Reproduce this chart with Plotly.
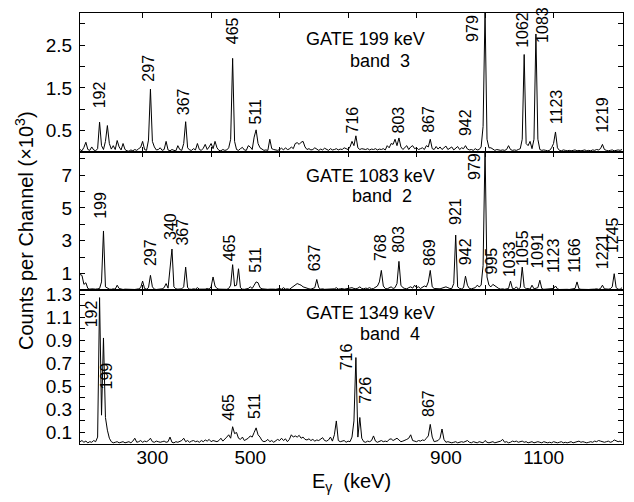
import numpy as np
import plotly.graph_objects as go

# Gamma-ray coincidence spectra, 4 keV per channel starting at 152 keV.
energy = np.arange(152, 1261, 4)

# GATE 199 keV (band 3), counts per channel
gate199_counts = [
    60, 30, 110, 230, 60, 40, 120, 50, 30, 80,            # 152-188
    700, 150, 60, 250, 620, 200, 70, 150, 60, 270,        # 192-228
    120, 50, 200, 60, 30, 20, 50, 30, 60, 40,             # 232-268
    80, 110, 250, 60, 40, 280, 1470, 250, 120, 50,        # 272-308
    60, 100, 40, 60, 250, 50, 30, 60, 40, 30,             # 312-348
    150, 60, 40, 200, 710, 100, 50, 40, 80, 50,           # 352-388
    200, 60, 40, 90, 180, 60, 120, 200, 80, 250,          # 392-428
    100, 40, 30, 60, 40, 50, 100, 300, 2190, 250,         # 432-468
    60, 40, 80, 110, 50, 40, 150, 120, 60, 350,           # 472-508
    520, 200, 100, 60, 40, 50, 40, 300, 80, 60,           # 512-548
    50, 40, 60, 90, 50, 100, 60, 70, 120, 80,             # 552-588
    200, 220, 180, 230, 250, 120, 60, 80, 50, 60,         # 592-628
    100, 60, 40, 70, 50, 90, 60, 40, 80, 50,              # 632-668
    60, 80, 50, 70, 60, 100, 80, 60, 120, 250,            # 672-708
    150, 380, 100, 60, 80, 70, 60, 80, 50, 70,            # 712-748
    60, 80, 50, 70, 60, 80, 50, 150, 100, 200,            # 752-788
    180, 300, 150, 330, 120, 60, 100, 150, 60, 120,       # 792-828
    150, 80, 100, 60, 80, 100, 60, 150, 120, 300,         # 832-868
    80, 60, 130, 70, 120, 60, 100, 140, 60, 90,           # 872-908
    120, 50, 80, 130, 60, 100, 80, 150, 70, 50,           # 912-948
    60, 40, 80, 50, 60, 120, 600, 3300, 300, 100,         # 952-988
    100, 60, 40, 60, 50, 40, 50, 40, 60, 150,             # 992-1028
    60, 40, 50, 40, 60, 80, 300, 2280, 200, 150,          # 1032-1068
    250, 80, 300, 2760, 300, 60, 40, 50, 40, 30,          # 1072-1108
    40, 100, 200, 470, 100, 40, 30, 50, 40, 30,           # 1112-1148
    40, 30, 40, 50, 30, 40, 30, 40, 50, 30,               # 1152-1188
    40, 30, 50, 40, 60, 50, 80, 180, 60, 40,              # 1192-1228
    30, 40, 50, 30, 40, 50, 40, 60,                       # 1232-1260
]

# GATE 1083 keV (band 2)
gate1083_counts = [
    950, 900, 350, 450, 100, 60, 80, 50, 60, 80,          # 152-188
    100, 500, 3600, 200, 120, 60, 50, 80, 60, 300,        # 192-228
    100, 50, 40, 60, 50, 40, 60, 50, 40, 60,              # 232-268
    80, 150, 550, 100, 60, 150, 900, 200, 60, 40,         # 272-308
    50, 60, 80, 150, 400, 120, 1300, 2500, 200, 80,       # 312-348
    60, 50, 80, 200, 1400, 150, 60, 50, 80, 60,           # 352-388
    150, 60, 50, 80, 60, 100, 60, 200, 800, 250,          # 392-428
    100, 60, 50, 80, 60, 50, 100, 300, 1550, 250,         # 432-468
    300, 1300, 150, 60, 50, 80, 100, 200, 100, 300,       # 472-508
    500, 450, 150, 80, 60, 80, 50, 60, 80, 60,            # 512-548
    50, 80, 100, 60, 150, 60, 80, 50, 150, 250,           # 552-588
    300, 400, 350, 300, 200, 150, 100, 80, 60, 100,       # 592-628
    150, 650, 150, 60, 80, 50, 60, 80, 60, 100,           # 632-668
    80, 150, 60, 80, 100, 60, 80, 120, 100, 150,          # 672-708
    100, 80, 120, 200, 100, 80, 120, 100, 150, 80,        # 712-748
    100, 150, 250, 500, 1200, 250, 100, 80, 150, 200,     # 752-788
    100, 150, 400, 1750, 300, 150, 100, 80, 150, 200,     # 792-828
    120, 300, 150, 200, 100, 150, 250, 200, 500, 1200,    # 832-868
    200, 100, 80, 100, 80, 120, 150, 200, 150, 100,       # 872-908
    100, 400, 3350, 200, 100, 80, 150, 850, 300, 100,     # 912-948
    80, 100, 150, 300, 200, 300, 1500, 8600, 800, 300,    # 952-988
    200, 350, 250, 150, 100, 60, 80, 50, 60, 100,         # 992-1028
    550, 100, 80, 200, 60, 150, 1400, 200, 80, 100,       # 1032-1068
    60, 300, 80, 100, 150, 600, 100, 50, 60, 40,          # 1072-1108
    60, 50, 100, 250, 80, 40, 50, 40, 60, 50,             # 1112-1148
    40, 60, 50, 100, 500, 80, 50, 40, 60, 50,             # 1152-1188
    40, 50, 40, 60, 80, 50, 100, 300, 80, 50,             # 1192-1228
    60, 80, 200, 1000, 150, 60, 50, 150,                  # 1232-1260
]

# GATE 1349 keV (band 4)
gate1349_counts = [
    20, 30, 15, 25, 10, 20, 15, 30, 20, 60,               # 152-188
    1270, 250, 920, 230, 120, 50, 20, 10, 15, 20,         # 192-228
    10, 15, 20, 10, 15, 20, 10, 25, 50, 15,               # 232-268
    20, 30, 15, 25, 20, 30, 50, 20, 15, 25,               # 272-308
    20, 15, 20, 25, 15, 20, 60, 15, 10, 20,               # 312-348
    15, 25, 30, 50, 20, 30, 15, 25, 30, 20,               # 352-388
    25, 15, 30, 20, 35, 25, 40, 20, 30, 25,               # 392-428
    20, 30, 50, 25, 40, 60, 80, 50, 150, 90,              # 432-468
    100, 50, 40, 60, 30, 40, 50, 70, 60, 100,             # 472-508
    140, 80, 60, 30, 20, 25, 40, 20, 30, 15,              # 512-548
    25, 40, 30, 50, 30, 45, 20, 40, 80, 60,               # 552-588
    70, 60, 75, 50, 60, 40, 35, 45, 30, 40,               # 592-628
    25, 35, 30, 40, 55, 30, 25, 35, 60, 25,               # 632-668
    80, 200, 30, 20, 25, 30, 15, 25, 20, 60,              # 672-708
    200, 750, 60, 230, 50, 20, 15, 25, 20, 30,            # 712-748
    70, 25, 15, 20, 30, 20, 25, 20, 40, 45,               # 752-788
    30, 40, 50, 35, 20, 25, 30, 40, 50, 80,               # 792-828
    30, 25, 20, 30, 25, 35, 30, 50, 70, 170,              # 832-868
    60, 20, 25, 30, 50, 130, 40, 15, 20, 15,              # 872-908
    10, 15, 20, 10, 15, 20, 15, 25, 30, 15,               # 912-948
    10, 20, 15, 10, 20, 15, 10, 30, 15, 10,               # 952-988
    15, 20, 10, 15, 20, 25, 40, 15, 20, 10,               # 992-1028
    15, 25, 20, 25, 15, 20, 25, 15, 20, 10,               # 1032-1068
    15, 20, 10, 15, 20, 15, 10, 20, 15, 10,               # 1072-1108
    15, 10, 20, 15, 10, 15, 20, 10, 15, 10,               # 1112-1148
    15, 20, 10, 15, 20, 25, 15, 20, 15, 10,               # 1152-1188
    15, 20, 15, 25, 20, 30, 25, 20, 15, 20,               # 1192-1228
    25, 15, 20, 35, 30, 20, 25, 15,                       # 1232-1260
]

# Peak labels (keV) and the channel energy each label marks
gate199_peaks = ["192", "297", "367", "465", "511", "716", "803", "867",
                 "942", "979", "1062", "1083", "1123", "1219"]
gate199_peak_channels = [192, 296, 368, 464, 512, 716, 804, 868,
                         940, 980, 1060, 1084, 1124, 1220]
gate1083_peaks = ["199", "297", "340", "367", "465", "511", "637", "768",
                  "803", "869", "921", "942", "979", "995", "1033", "1055",
                  "1091", "1123", "1166", "1221", "1245"]
gate1083_peak_channels = [200, 296, 340, 368, 464, 512, 636, 768,
                          804, 868, 920, 940, 980, 996, 1032, 1056,
                          1092, 1124, 1168, 1220, 1244]
gate1349_peaks = ["192", "199", "465", "511", "716", "726", "867"]
gate1349_peak_channels = [192, 200, 464, 512, 716, 724, 868]

x_tick_labels = [300, 500, 900, 1100]
x_minor_ticks = [280, 420, 560, 700, 840, 980, 1120, 1260]

# Label placement: (height in 10^3 counts, horizontal shift in px)
gate199_label_pos = [(1.34, 0), (1.96, -2), (1.18, -2), (2.84, 0), (0.95, -1),
                     (0.76, -3), (0.76, 0), (0.76, -2), (0.69, 0), (2.88, -12),
                     (2.86, -1), (2.97, 7), (1.06, 1), (0.88, 0)]
gate1083_label_pos = [(5.16, -3), (2.28, 0), (3.9, -2), (3.54, -3), (2.58, -3),
                      (1.86, -1), (1.98, -2), (2.58, -1), (3.12, 0), (2.28, -1),
                      (4.8, 0), (2.34, 0), (7.5, -10), (1.8, -1), (1.92, -1),
                      (2.58, 1), (2.4, -2), (2.1, -2), (2.1, -2), (2.4, 0),
                      (3.36, -1)]
gate1349_label_pos = [(1.13, -8), (0.59, 3), (0.32, -5), (0.33, -1),
                      (0.76, -9), (0.47, 6), (0.35, -2)]

FONT = "Liberation Sans, Arial, Helvetica, sans-serif"
X_RANGE = [152, 1262]

panels = [
    dict(counts=gate199_counts, peaks=gate199_peaks, chans=gate199_peak_channels,
         pos=gate199_label_pos, yrange=[0, 3.25], domain=[0.6773, 1.0],
         major=[0.5, 1.5, 2.5], minor=[1.0, 2.0, 3.0], fmt="%.1f",
         gate="GATE 199 keV", band="band\u00a0\u00a03",
         gate_xy=(735, 2.65), band_xy=(765, 2.14)),
    dict(counts=gate1083_counts, peaks=gate1083_peaks, chans=gate1083_peak_channels,
         pos=gate1083_label_pos, yrange=[0, 8.4], domain=[0.357, 0.6773],
         major=[1, 3, 5, 7], minor=[2, 4, 6, 8], fmt="%d",
         gate="GATE 1083 keV", band="band\u00a0\u00a02",
         gate_xy=(745, 6.96), band_xy=(769, 5.7)),
    dict(counts=gate1349_counts, peaks=gate1349_peaks, chans=gate1349_peak_channels,
         pos=gate1349_label_pos, yrange=[0, 1.335], domain=[0.0, 0.357],
         major=[0.1, 0.3, 0.5, 0.7, 0.9, 1.1, 1.3],
         minor=[0.2, 0.4, 0.6, 0.8, 1.0, 1.2], fmt="%.1f",
         gate="GATE 1349 keV", band="band\u00a0\u00a04",
         gate_xy=(745, 1.137), band_xy=(786, 0.957)),
]

fig = go.Figure()
annotations = []
layout = {}

for i, p in enumerate(panels, start=1):
    xa = "x" if i == 1 else f"x{i}"
    ya = "y" if i == 1 else f"y{i}"
    fig.add_trace(go.Scatter(
        x=energy, y=np.array(p["counts"]) / 1000.0, mode="lines",
        line=dict(color="black", width=1), xaxis=xa, yaxis=ya,
        showlegend=False, hoverinfo="skip"))

    xkey = "xaxis" if i == 1 else f"xaxis{i}"
    ykey = "yaxis" if i == 1 else f"yaxis{i}"
    layout[xkey] = dict(
        domain=[0, 1], anchor=ya, range=X_RANGE, showline=True,
        linecolor="black", linewidth=1.3, ticks="inside", ticklen=5,
        tickwidth=1, tickcolor="black", tickvals=x_minor_ticks,
        showticklabels=False, showgrid=False, zeroline=False,
        mirror="ticks" if i < 3 else True, side="bottom" if i < 3 else "top")
    layout[ykey] = dict(
        domain=p["domain"], anchor=xa, range=p["yrange"], showline=True,
        linecolor="black", linewidth=1.3, ticks="inside", ticklen=5,
        tickwidth=1, tickcolor="black", tickvals=p["major"],
        ticktext=[p["fmt"] % v for v in p["major"]],
        minor=dict(tickvals=p["minor"], ticks="inside", ticklen=5,
                   tickwidth=1, tickcolor="black", showgrid=False),
        mirror="ticks", showgrid=False,
        zeroline=False, ticklabelstandoff=3,
        tickfont=dict(family=FONT, size=19, color="black"))

    for label, chan, (ly, dx) in zip(p["peaks"], p["chans"], p["pos"]):
        annotations.append(dict(
            x=chan, y=ly, xref=xa, yref=ya, text=label, textangle=-90,
            showarrow=False, xanchor="center", yanchor="middle", xshift=dx,
            font=dict(family=FONT, size=16, color="black")))
    annotations.append(dict(
        x=p["gate_xy"][0], y=p["gate_xy"][1], xref=xa, yref=ya, text=p["gate"],
        showarrow=False, xanchor="center", yanchor="middle",
        font=dict(family=FONT, size=18, color="black")))
    annotations.append(dict(
        x=p["band_xy"][0], y=p["band_xy"][1], xref=xa, yref=ya, text=p["band"],
        showarrow=False, xanchor="center", yanchor="middle",
        font=dict(family=FONT, size=18, color="black")))

# energy labels along the bottom edge
fig.add_trace(go.Scatter(x=[300], y=[None], xaxis="x4", yaxis="y3",
                         showlegend=False, hoverinfo="skip"))
layout["xaxis4"] = dict(
    overlaying="x3", anchor="y3", side="bottom", range=X_RANGE,
    tickvals=x_tick_labels, ticks="", showline=False, showgrid=False,
    zeroline=False, tickfont=dict(family=FONT, size=19, color="black"),
    title=dict(text="E<sub>\u03b3</sub>  (keV)", standoff=6,
               font=dict(family=FONT, size=20, color="black")))

annotations.append(dict(
    x=-0.1013, y=0.4966, xref="paper", yref="paper",
    text="Counts per Channel (\u00d710<sup>3</sup>)", textangle=-90,
    showarrow=False, xanchor="center", yanchor="middle",
    font=dict(family=FONT, size=20, color="black")))

fig.update_layout(
    width=634, height=502,
    margin=dict(l=80, r=11, t=7, b=58),
    paper_bgcolor="white", plot_bgcolor="white",
    annotations=annotations, **layout)

fig.write_html("out.html")
